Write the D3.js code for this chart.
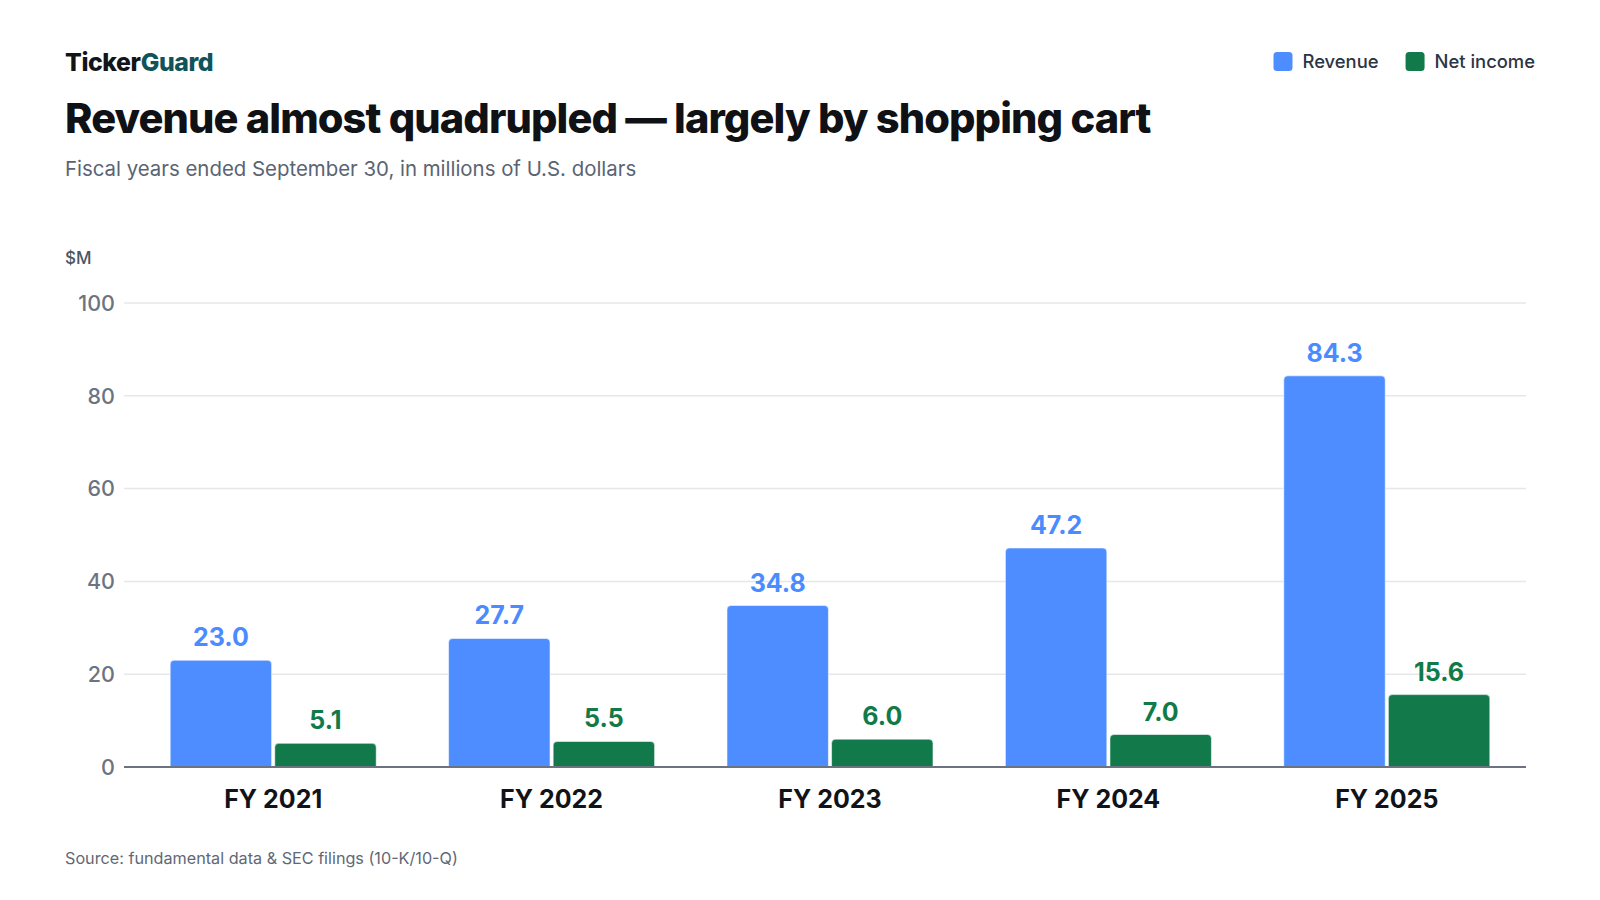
<!DOCTYPE html>
<html>
<head>
<meta charset="utf-8">
<script src="https://cdn.jsdelivr.net/npm/d3@7"></script>
<style>
  html, body { margin: 0; padding: 0; background: #fff; }
  svg { display: block; font-family: Inter, "Noto Sans", sans-serif; }
</style>
</head>
<body>
<svg id="chart" width="1600" height="900"></svg>
<script>
// data
var years   = ["FY 2021", "FY 2022", "FY 2023", "FY 2024", "FY 2025"];
var revenue = [23.0, 27.7, 34.8, 47.2, 84.3];
var netIncome = [5.1, 5.5, 6.0, 7.0, 15.6];
var yTicks  = [0, 20, 40, 60, 80, 100];
var seriesNames = ["Revenue", "Net income"];

var colors = { "Revenue": "#4d8dff", "Net income": "#127a4a" };
var labelColors = { "Revenue": "#4a8cff", "Net income": "#117a49" };

var svg = d3.select("#chart");
var W = 1600, H = 900;

var plot = { left: 134, right: 1526, top: 303, bottom: 767, gridLeft: 124 };

var x0 = d3.scaleBand().domain(years).range([plot.left, plot.right])
  .paddingInner(0.26).paddingOuter(0.13);
var x1 = d3.scaleBand().domain(seriesNames).range([0, x0.bandwidth()]).paddingInner(0.03);
var y = d3.scaleLinear().domain([0, 100]).range([plot.bottom, plot.top]);

// header
var brand = svg.append("text").attr("x", 65).attr("y", 70.5)
  .style("font-size", "24.8px").style("font-weight", 800).style("letter-spacing", "-0.4px");
brand.append("tspan").attr("fill", "#111418").text("Ticker");
brand.append("tspan").attr("fill", "#0f5459").text("Guard");

var title = svg.append("text").attr("x", 65).attr("y", 132.5)
  .attr("fill", "#0f1115")
  .style("font-size", "41px").style("font-weight", 800).style("letter-spacing", "-0.9px")
  .text("Revenue almost quadrupled — largely by shopping cart");
// fit the title to its measured width in the reference
var tw = title.node().getComputedTextLength();
title.style("font-size", (41 * 1085 / tw).toFixed(2) + "px");

svg.append("text").attr("x", 65).attr("y", 176)
  .attr("fill", "#5a6473")
  .style("font-size", "20.4px").style("font-weight", 400)
  .text("Fiscal years ended September 30, in millions of U.S. dollars");

// legend, right aligned
var legend = svg.append("g");
var lx = 1535;
seriesNames.slice().reverse().forEach(function(name) {
  var t = legend.append("text").attr("y", 68)
    .attr("fill", "#2b3544")
    .style("font-size", "18.4px").style("font-weight", 500)
    .attr("text-anchor", "end").attr("x", lx).text(name);
  var w = t.node().getComputedTextLength();
  legend.append("rect")
    .attr("x", lx - w - 10 - 19).attr("y", 52)
    .attr("width", 19).attr("height", 19).attr("rx", 3.5)
    .attr("fill", colors[name]);
  lx = lx - w - 10 - 19 - 27;
});

// y unit
svg.append("text").attr("x", 65).attr("y", 264)
  .attr("fill", "#4b5563")
  .style("font-size", "17px").style("font-weight", 500)
  .text("$M");

// grid + y axis
var yAxis = svg.append("g").attr("class", "y-axis");
yAxis.selectAll("line.grid").data(yTicks.filter(function(d) { return d > 0; }))
  .enter().append("line").attr("class", "grid")
  .attr("x1", plot.gridLeft).attr("x2", plot.right)
  .attr("y1", function(d) { return y(d); }).attr("y2", function(d) { return y(d); })
  .attr("stroke", "#e5e7eb").attr("stroke-width", 1.5);

yAxis.selectAll("text").data(yTicks).enter().append("text")
  .attr("x", 115).attr("y", function(d) { return y(d); })
  .attr("dy", "0.36em").attr("text-anchor", "end")
  .attr("fill", "#6b7480")
  .style("font-size", "21.5px").style("font-weight", 500)
  .text(function(d) { return d; });

// bars
function topRounded(x, yTop, w, h, r) {
  r = Math.min(r, h, w / 2);
  return "M" + x + "," + (yTop + h) +
    "V" + (yTop + r) +
    "Q" + x + "," + yTop + " " + (x + r) + "," + yTop +
    "H" + (x + w - r) +
    "Q" + (x + w) + "," + yTop + " " + (x + w) + "," + (yTop + r) +
    "V" + (yTop + h) + "Z";
}

var rows = years.map(function(yr, i) {
  return { year: yr, values: [
    { key: "Revenue", value: revenue[i] },
    { key: "Net income", value: netIncome[i] }
  ]};
});

var groups = svg.append("g").selectAll("g.year").data(rows).enter().append("g")
  .attr("class", "year")
  .attr("transform", function(d) { return "translate(" + x0(d.year) + ",0)"; });

groups.selectAll("path.bar").data(function(d) { return d.values; }).enter().append("path")
  .attr("class", "bar")
  .attr("d", function(d) {
    return topRounded(x1(d.key), y(d.value), x1.bandwidth(), y(0) - y(d.value), 4);
  })
  .attr("fill", function(d) { return colors[d.key]; })
  .attr("stroke", "rgba(255,255,255,0.55)").attr("stroke-width", 1);

groups.selectAll("text.val").data(function(d) { return d.values; }).enter().append("text")
  .attr("class", "val")
  .attr("x", function(d) { return x1(d.key) + x1.bandwidth() / 2; })
  .attr("y", function(d) { return y(d.value) - 14; })
  .attr("text-anchor", "middle")
  .attr("fill", function(d) { return labelColors[d.key]; })
  .style("font-size", "25px").style("font-weight", 700)
  .text(function(d) { return d.value.toFixed(1); });

// baseline
svg.append("line")
  .attr("x1", plot.gridLeft).attr("x2", plot.right)
  .attr("y1", y(0)).attr("y2", y(0))
  .attr("stroke", "#6b7280").attr("stroke-width", 2);

// x labels
svg.append("g").selectAll("text").data(years).enter().append("text")
  .attr("x", function(d) { return x0(d) + x0.bandwidth() / 2; })
  .attr("y", 808)
  .attr("text-anchor", "middle")
  .attr("fill", "#111318")
  .style("font-size", "25px").style("font-weight", 700)
  .text(function(d) { return d; });

// source
svg.append("text").attr("x", 65).attr("y", 864)
  .attr("fill", "#5f6876")
  .style("font-size", "16.2px").style("font-weight", 400)
  .text("Source: fundamental data & SEC filings (10-K/10-Q)");
</script>
</body>
</html>
